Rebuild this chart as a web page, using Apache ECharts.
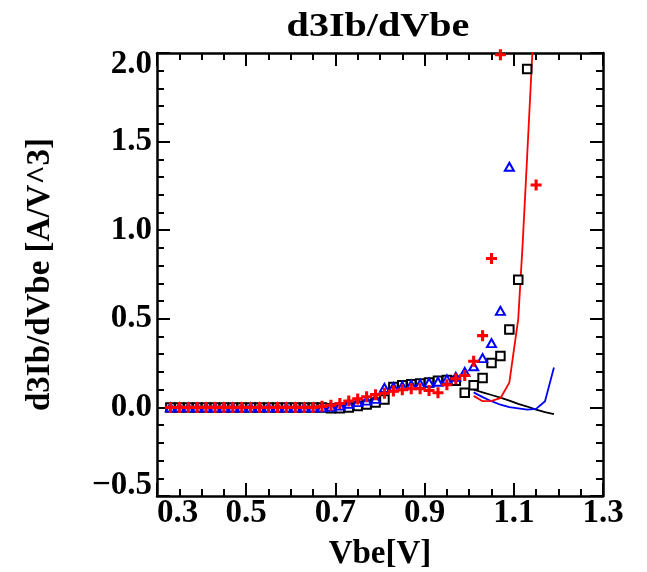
<!DOCTYPE html>
<html>
<head>
<meta charset="utf-8">
<script src="https://cdn.jsdelivr.net/npm/echarts@6/dist/echarts.min.js"></script>
<style>
  html, body { margin: 0; padding: 0; background: #fff; }
  #chart { width: 647px; height: 572px; }
</style>
</head>
<body>
<div id="chart"></div>
<script>
// ---- data ----
const vbe = [0.33,0.35,0.37,0.39,0.41,0.43,0.45,0.47,0.49,0.51,0.53,0.55,0.57,0.59,0.61,0.63,0.65,0.67,
             0.69,0.71,0.73,0.75,0.77,0.79,0.81,0.83,0.85,0.87,0.89,0.91,0.93,0.95,0.97,0.99,
             1.01,1.03,1.05,1.07,1.09,1.11,1.13,1.15];
const measSquares = [0,0,0,0,0,0,0,0,0,0,0,0,0,0,0,0,0,0,
             -0.005,-0.005,0.0,0.008,0.016,0.028,0.045,0.115,0.125,0.13,0.135,0.14,0.15,0.155,0.15,0.083,
             0.125,0.166,0.25,0.29,0.44,0.72,1.91,null];
const measTriangles = [0,0,0,0,0,0,0,0,0,0,0,0,0,0,0,0,0,0,
             0.004,0.01,0.02,0.03,0.038,0.048,0.11,0.115,0.12,0.128,0.133,0.14,0.145,0.158,0.172,0.2,
             0.232,0.278,0.363,0.545,1.358,null,null,null];
const measPlus = [0,0,0,0,0,0,0,0,0,0,0,0,0,0,0,0,0,0.006,
             0.012,0.022,0.036,0.048,0.06,0.072,0.08,0.092,0.1,0.105,0.105,0.095,0.083,0.128,0.162,0.18,
             0.26,0.405,0.84,1.99,null,null,null,1.255];

const modelVbe   = [1.01,1.03,1.05,1.07,1.09,1.11,1.13,1.15,1.17,1.19];
const modelBlack = [0.10,0.085,0.07,0.055,0.038,0.02,0.005,-0.012,-0.027,-0.038];
const modelBlue  = [0.085,0.058,0.035,0.015,0.002,-0.005,-0.012,-0.008,0.035,0.225];
const redVbe     = [1.01,1.03,1.05,1.07,1.09,1.10,1.11,1.12,1.13,1.14,1.15];
const modelRed   = [0.065,0.035,0.037,0.052,0.14,0.32,0.5,0.93,1.42,1.92,2.45];

const xTickLabels = ['0.3','0.5','0.7','0.9','1.1','1.3'];
const yTickLabels = ['\u22120.5','0.0','0.5','1.0','1.5','2.0'];

// ---- helpers ----
const pairs = (xs, ys) => xs.map((x, i) => [x, ys[i]]).filter(p => p[1] !== null);
const FONT = 'Liberation Serif';
const labelStyle = { fontFamily: FONT, fontWeight: 'bold', fontSize: 33, color: '#000' };
const axisLineStyle = { color: '#000', width: 2.5 };

function xAxisCfg(pos, showLabel) {
  return {
    type: 'value', position: pos, min: 0.3, max: 1.3, interval: 0.2,
    axisLine: { show: true, onZero: false, lineStyle: axisLineStyle },
    axisTick: { show: true, inside: true, length: 13, lineStyle: { color: '#000', width: 2 } },
    minorTick: { show: true, splitNumber: 4, length: 7, lineStyle: { color: '#000', width: 2 } },
    splitLine: { show: false },
    axisLabel: Object.assign({
      show: showLabel, margin: 6, lineHeight: 22,
      alignMinLabel: 'left', alignMaxLabel: 'center',
      formatter: v => { const i = Math.round((v - 0.3) / 0.2); return xTickLabels[i] !== undefined ? xTickLabels[i] : v.toFixed(1); }
    }, labelStyle)
  };
}
function yAxisCfg(pos, showLabel) {
  return {
    type: 'value', position: pos, min: -0.5, max: 2.0, interval: 0.5,
    axisLine: { show: true, onZero: false, lineStyle: axisLineStyle },
    axisTick: { show: true, inside: true, length: 13, lineStyle: { color: '#000', width: 2 } },
    minorTick: { show: true, splitNumber: 5, length: 7, lineStyle: { color: '#000', width: 2 } },
    splitLine: { show: false },
    axisLabel: Object.assign({
      show: showLabel, margin: 5, lineHeight: 22,
      verticalAlignMinLabel: 'bottom', verticalAlignMaxLabel: 'top',
      formatter: v => { const i = Math.round((v + 0.5) / 0.5); return yTickLabels[i] !== undefined ? yTickLabels[i] : v.toFixed(1); }
    }, labelStyle)
  };
}

const xBottom = xAxisCfg('bottom', true);
xBottom.name = 'Vbe[V]';
xBottom.nameLocation = 'middle';
xBottom.nameGap = 42;
xBottom.nameTextStyle = { fontFamily: FONT, fontWeight: 'bold', fontSize: 33, color: '#000' };

const yLeft = yAxisCfg('left', true);
yLeft.name = 'd3Ib/dVbe [A/V^3]';
yLeft.nameLocation = 'middle';
yLeft.nameGap = 100;
yLeft.nameTextStyle = { fontFamily: FONT, fontWeight: 'bold', fontSize: 33, color: '#000' };

const plusPath = 'path://M3.6,0H6.4V3.6H10V6.4H6.4V10H3.6V6.4H0V3.6H3.6Z';

const chart = echarts.init(document.getElementById('chart'), null, { renderer: 'canvas' });
chart.setOption({
  backgroundColor: '#fff',
  animation: false,
  grid: { left: 157, top: 53, width: 446, height: 443, containLabel: false, outerBoundsMode: 'none' },
  xAxis: [xBottom, xAxisCfg('top', false)],
  yAxis: [yLeft, yAxisCfg('right', false)],
  graphic: [{
    type: 'text', x: 378, y: 27, scaleX: 1.18, z: 10,
    style: { text: 'd3Ib/dVbe', fontFamily: FONT, fontWeight: 'bold', fontSize: 34, fill: '#000',
             align: 'center', verticalAlign: 'middle' }
  }],
  series: [
    { type: 'line', data: pairs(modelVbe, modelBlack), showSymbol: false, symbol: 'none', z: 1,
      lineStyle: { color: '#000', width: 1.8 }, clip: true },
    { type: 'line', data: pairs(modelVbe, modelBlue), showSymbol: false, symbol: 'none', z: 1,
      lineStyle: { color: '#0000ff', width: 1.8 }, clip: true },
    { type: 'line', data: pairs(redVbe, modelRed), showSymbol: false, symbol: 'none', z: 1,
      lineStyle: { color: '#ff0000', width: 1.8 }, clip: true },
    { type: 'scatter', data: pairs(vbe, measSquares), symbol: 'rect', symbolSize: 8.5, z: 2, clip: true,
      itemStyle: { color: '#fff', borderColor: '#000', borderWidth: 2, opacity: 1 } },
    { type: 'scatter', data: pairs(vbe, measTriangles), symbol: 'triangle', symbolSize: [9, 8], z: 3, clip: true,
      itemStyle: { color: '#fff', borderColor: '#0000ff', borderWidth: 2, opacity: 1 } },
    { type: 'scatter', data: pairs(vbe, measPlus), symbol: plusPath, symbolSize: 11, z: 4, clip: true,
      itemStyle: { color: '#ff0000', opacity: 1 } }
  ]
});
</script>
</body>
</html>
